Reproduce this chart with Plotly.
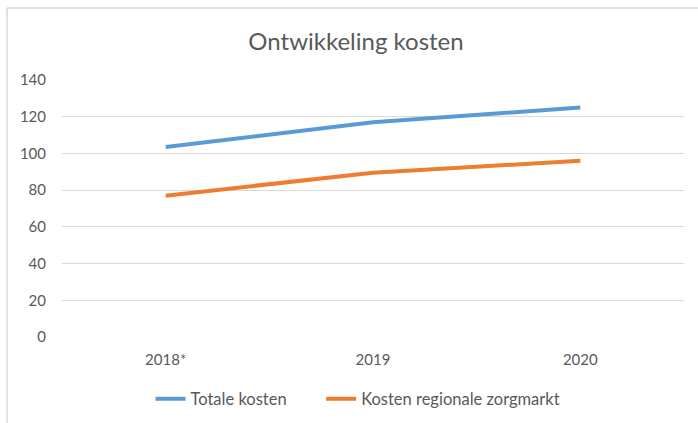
import plotly.graph_objects as go

categories = ["2018*", "2019", "2020"]
totale_kosten = [103.5, 117, 125]
kosten_regionale = [77, 89.5, 96]
y_ticks = [0, 20, 40, 60, 80, 100, 120, 140]
series_names = ["Totale kosten", "Kosten regionale zorgmarkt"]

W, H = 698, 423
L, R, T, B = 62, 14, 80, 86

fig = go.Figure()
fig.add_trace(go.Scatter(x=categories, y=totale_kosten, mode="lines",
                         name=series_names[0] + "\u00a0" * 7,
                         line=dict(color="#5B9BD5", width=4)))
fig.add_trace(go.Scatter(x=categories, y=kosten_regionale, mode="lines",
                         name=series_names[1],
                         line=dict(color="#ED7D31", width=4)))

font = "Lato, Carlito, Calibri, sans-serif"
fig.update_layout(
    width=W, height=H,
    margin=dict(l=L, r=R, t=T, b=B),
    paper_bgcolor="white", plot_bgcolor="white",
    font=dict(family=font, size=15, color="#595959"),
    title=dict(text="Ontwikkeling kosten", x=356 / W, xanchor="center", xref="container",
               y=1 - 42 / H, yanchor="middle", yref="container",
               font=dict(family=font, size=24, color="#595959")),
    xaxis=dict(type="category", range=[-0.5, 2.5], showgrid=False, zeroline=False,
               showline=False, ticks="", ticklabelstandoff=12, tickfont=dict(size=15)),
    yaxis=dict(range=[0, 140], tickvals=y_ticks, showgrid=True, gridcolor="#D9D9D9",
               gridwidth=1, zeroline=False, showline=False, ticks="",
               ticklabelstandoff=15, tickfont=dict(size=15)),
    legend=dict(orientation="h", xref="container", yref="container",
                x=358 / W, xanchor="center", y=24 / H, yanchor="middle",
                font=dict(size=16.5), itemwidth=30, bgcolor="rgba(0,0,0,0)"),
    showlegend=True,
)

pw = W - L - R
ph = H - T - B
def px(x):
    return (x - L) / pw
def py(y):
    return (H - B - y) / ph

fig.add_shape(type="line", xref="paper", yref="paper", x0=px(7), x1=px(W + 5), y0=py(8), y1=py(8),
              line=dict(color="#D9D9D9", width=1.5))
fig.add_shape(type="line", xref="paper", yref="paper", x0=px(7), x1=px(7), y0=py(8), y1=py(H + 5),
              line=dict(color="#D9D9D9", width=1.5))

fig.write_html("out.html", config={"displayModeBar": False},
               post_script="document.body.style.margin='0';document.body.style.overflow='hidden';")
